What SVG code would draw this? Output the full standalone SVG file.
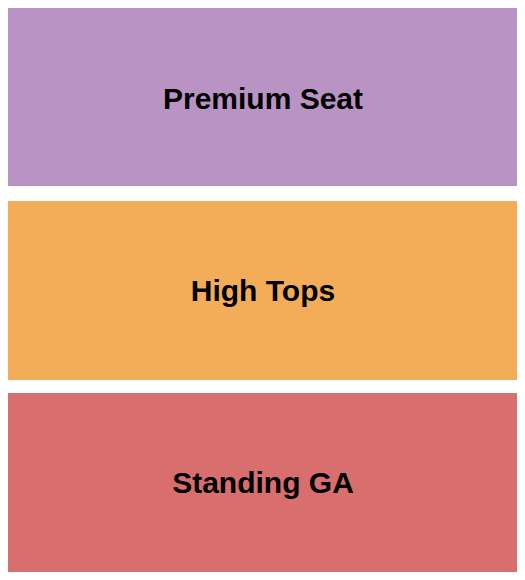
<svg xmlns="http://www.w3.org/2000/svg" width="525" height="580" viewBox="0 0 525 580">
<style>
.lbl{font-family:"Liberation Sans",Arial,sans-serif;font-weight:bold;font-size:30px;fill:#000;text-anchor:middle}
</style>
<rect width="525" height="580" fill="#ffffff"/>
<g id="premium-seat">
<rect x="8" y="8" width="509" height="178" fill="#B993C3"/>
<text class="lbl" x="263" y="109">Premium Seat</text>
</g>
<g id="high-tops">
<rect x="8" y="201" width="509" height="179" fill="#F3AD58"/>
<text class="lbl" x="263" y="301">High Tops</text>
</g>
<g id="standing-ga">
<rect x="8" y="393" width="509" height="179" fill="#D86E6E"/>
<text class="lbl" x="263" y="493">Standing GA</text>
</g>
<g id="connectors"/>
</svg>
